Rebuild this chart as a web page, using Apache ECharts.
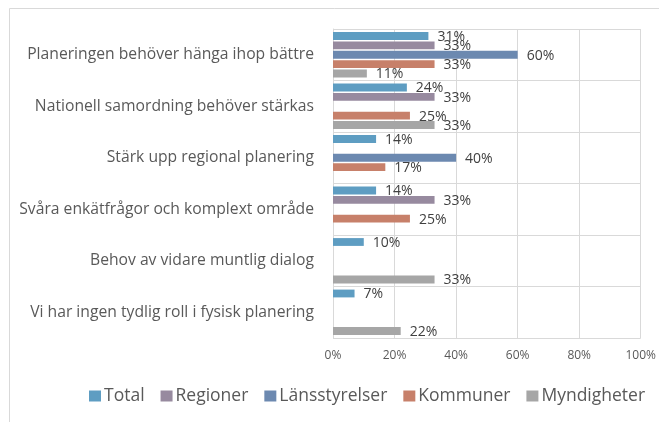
<!DOCTYPE html>
<html>
<head>
<meta charset="utf-8">
<script src="https://cdn.jsdelivr.net/npm/echarts@6/dist/echarts.min.js"></script>
<style>
  html, body { margin: 0; padding: 0; background: #ffffff; }
  #chart { width: 659px; height: 422px; }
</style>
</head>
<body>
<div id="chart"></div>
<script>
// Reasons given, top to bottom
var categories = [
  'Planeringen behöver hänga ihop bättre',
  'Nationell samordning behöver stärkas',
  'Stärk upp regional planering',
  'Svåra enkätfrågor och komplext område',
  'Behov av vidare muntlig dialog',
  'Vi har ingen tydlig roll i fysisk planering'
];

// Share of respondents (%) per group; null = no answers
var total         = [31, 24, 14, 14, 10, 7];
var regioner      = [33, 33, null, 33, null, null];
var lansstyrelser = [60, null, 40, null, null, null];
var kommuner      = [33, 25, 17, 25, null, null];
var myndigheter   = [11, 33, null, null, 33, 22];

var xTicks = [0, 20, 40, 60, 80, 100];

var seriesNames  = ['Total', 'Regioner', 'Länsstyrelser', 'Kommuner', 'Myndigheter'];
var seriesValues = [total, regioner, lansstyrelser, kommuner, myndigheter];
var seriesColors = ['#5E9DC2', '#978A9F', '#6C89B0', '#C7806A', '#A6A6A6'];

var FONT = '"Open Sans", sans-serif';

var chart = echarts.init(document.getElementById('chart'), null, { renderer: 'canvas' });

var series = seriesNames.map(function (name, i) {
  return {
    name: name,
    type: 'bar',
    data: seriesValues[i],
    barGap: '20%',
    barCategoryGap: '12%',
    itemStyle: { color: seriesColors[i] },
    label: {
      show: true,
      position: 'right',
      distance: 9,
      offset: [0, 1],
      formatter: function (p) { return p.value == null ? '' : p.value + '%'; },
      color: '#404040',
      fontFamily: FONT,
      fontSize: 14
    }
  };
});

chart.setOption({
  animation: false,
  backgroundColor: '#ffffff',
  textStyle: { fontFamily: FONT },
  graphic: [{
    type: 'rect',
    left: 7, top: 6,
    shape: { width: 700, height: 500 },
    style: { fill: 'none', stroke: '#D9D9D9', lineWidth: 1 },
    silent: true,
    z: -10
  }],
  grid: { left: 333, right: 18, top: 29, bottom: 84, containLabel: false },
  legend: {
    data: seriesNames,
    left: 84,
    top: 382,
    icon: 'rect',
    itemWidth: 12,
    itemHeight: 11,
    itemGap: 16,
    textStyle: { color: '#595959', fontSize: 17.5, fontFamily: FONT, padding: [0, 0, 0, -2] }
  },
  xAxis: {
    type: 'value',
    min: xTicks[0],
    max: xTicks[xTicks.length - 1],
    interval: 20,
    axisLine: { show: false },
    axisTick: { show: false },
    splitLine: { show: true, lineStyle: { color: '#D9D9D9', width: 1 } },
    axisLabel: {
      formatter: '{value}%',
      color: '#595959',
      fontSize: 12,
      fontFamily: FONT,
      margin: 12
    }
  },
  yAxis: {
    type: 'category',
    data: categories,
    inverse: true,
    axisLine: { show: true, lineStyle: { color: '#D9D9D9' } },
    axisTick: { show: false },
    splitLine: { show: true, lineStyle: { color: '#D9D9D9', width: 1 } },
    axisLabel: {
      color: '#595959',
      fontSize: 15.7,
      fontFamily: FONT,
      margin: 19
    }
  },
  series: series
});
</script>
</body>
</html>
